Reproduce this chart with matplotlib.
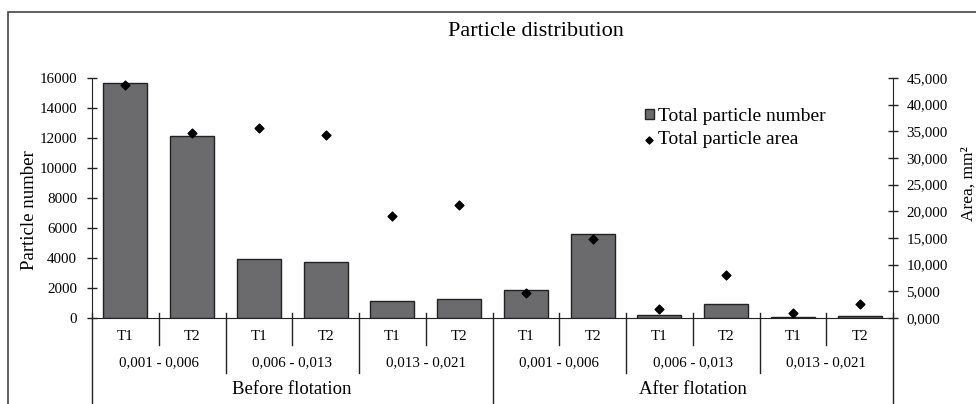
import matplotlib
matplotlib.use("Agg")
import matplotlib.pyplot as plt
import matplotlib.transforms as mtransforms
from matplotlib.patches import Rectangle

plt.rcParams['font.family'] = ['Liberation Serif', 'DejaVu Serif']

# Datos
etiquetas_t = ['T1', 'T2'] * 6
grupos_tamano = ['0,001 - 0,006', '0,006 - 0,013', '0,013 - 0,021',
                 '0,001 - 0,006', '0,006 - 0,013', '0,013 - 0,021']
etapas = ['Before flotation', 'After flotation']
numero_particulas = [15670, 12160, 3950, 3760, 1160, 1290,
                     1870, 5570, 200, 930, 60, 160]
area_particulas = [43700, 34750, 35650, 34300, 19200, 21200,
                   4650, 14800, 1600, 8000, 850, 2550]
ticks_izq = [0, 2000, 4000, 6000, 8000, 10000, 12000, 14000, 16000]
ticks_der = [0, 5000, 10000, 15000, 20000, 25000, 30000, 35000, 40000, 45000]
etiquetas_der = ['0,000', '5,000', '10,000', '15,000', '20,000', '25,000',
                 '30,000', '35,000', '40,000', '45,000']

fig = plt.figure(figsize=(9.76, 4.04), dpi=100)
ax = fig.add_axes([92 / 976, 1 - 318 / 404, (893 - 92) / 976, 240 / 404])
ax2 = ax.twinx()

x = list(range(len(numero_particulas)))
barras = ax.bar(x, numero_particulas, width=0.66, color='#6b6b6d',
                edgecolor='#222222', linewidth=1.0, label='Total particle number')
puntos = ax2.scatter(x, area_particulas, marker='D', s=20, color='black',
                     zorder=5, label='Total particle area')

ax.set_xlim(-0.5, len(x) - 0.5)
ax.set_ylim(0, 16000)
ax2.set_ylim(0, 45000)
ax.set_yticks(ticks_izq)
ax.set_yticklabels([str(v) for v in ticks_izq])
ax2.set_yticks(ticks_der)
ax2.set_yticklabels(etiquetas_der)
ax.set_xticks([])

for a in (ax, ax2):
    a.spines['top'].set_visible(False)
    a.patch.set_visible(False)
ax.spines['right'].set_visible(False)
ax2.spines['left'].set_visible(False)
ax2.spines['bottom'].set_visible(False)
for s in ('left', 'bottom'):
    ax.spines[s].set_color('#222222')
ax2.spines['right'].set_color('#222222')

ax.tick_params(axis='y', direction='inout', length=7.5, width=1, pad=7,
               labelsize=10.8, color='#222222')
ax2.tick_params(axis='y', direction='inout', length=7.5, width=1, pad=6,
                labelsize=10.8, color='#222222')

ax.set_ylabel('Particle number', fontsize=13.5)
ax.yaxis.set_label_coords(-0.068, 0.45)
ax2.set_ylabel('Area, mm²', fontsize=12.5)
ax2.yaxis.set_label_coords(1.084, 0.56)

# Eje de categorias jerarquico
trans = mtransforms.blended_transform_factory(ax.transData, ax.transAxes)
for i in range(len(x) + 1):
    pos = i - 0.5
    if i % 6 == 0:
        fondo = -0.40
    elif i % 2 == 0:
        fondo = -0.229
    else:
        fondo = -0.1125
    ax.plot([pos, pos], [0.021, fondo], transform=trans, color='#222222',
            lw=1, clip_on=False)

for i, t in enumerate(etiquetas_t):
    ax.text(i, -0.075, t, transform=trans, ha='center', va='center', fontsize=10.8)
for j, g in enumerate(grupos_tamano):
    ax.text(2 * j + 0.5, -0.1875, g, transform=trans, ha='center', va='center',
            fontsize=10.8)
for k, e in enumerate(etapas):
    ax.text(6 * k + 2.5, -0.296, e, transform=trans, ha='center', va='center',
            fontsize=13.5)

fig.text(536 / 976, 1 - 32 / 404, 'Particle distribution', ha='center',
         va='center', fontsize=16)

leg = ax2.legend([barras, puntos], ['Total particle number', 'Total particle area'],
                 loc='upper left', bbox_to_anchor=(645 / 976, 1 - 108 / 404),
                 bbox_transform=fig.transFigure, frameon=False, fontsize=14,
                 handlelength=0.45, handleheight=0.45, handletextpad=0.2,
                 labelspacing=0.3, borderpad=0, borderaxespad=0, markerscale=0.8)

fig.patches.append(Rectangle((8 / 976, -0.05), 1.1, 1.05 - 12 / 404,
                             transform=fig.transFigure, fill=False,
                             edgecolor='#444444', lw=1.2))

fig.savefig('out.png', dpi=100)
